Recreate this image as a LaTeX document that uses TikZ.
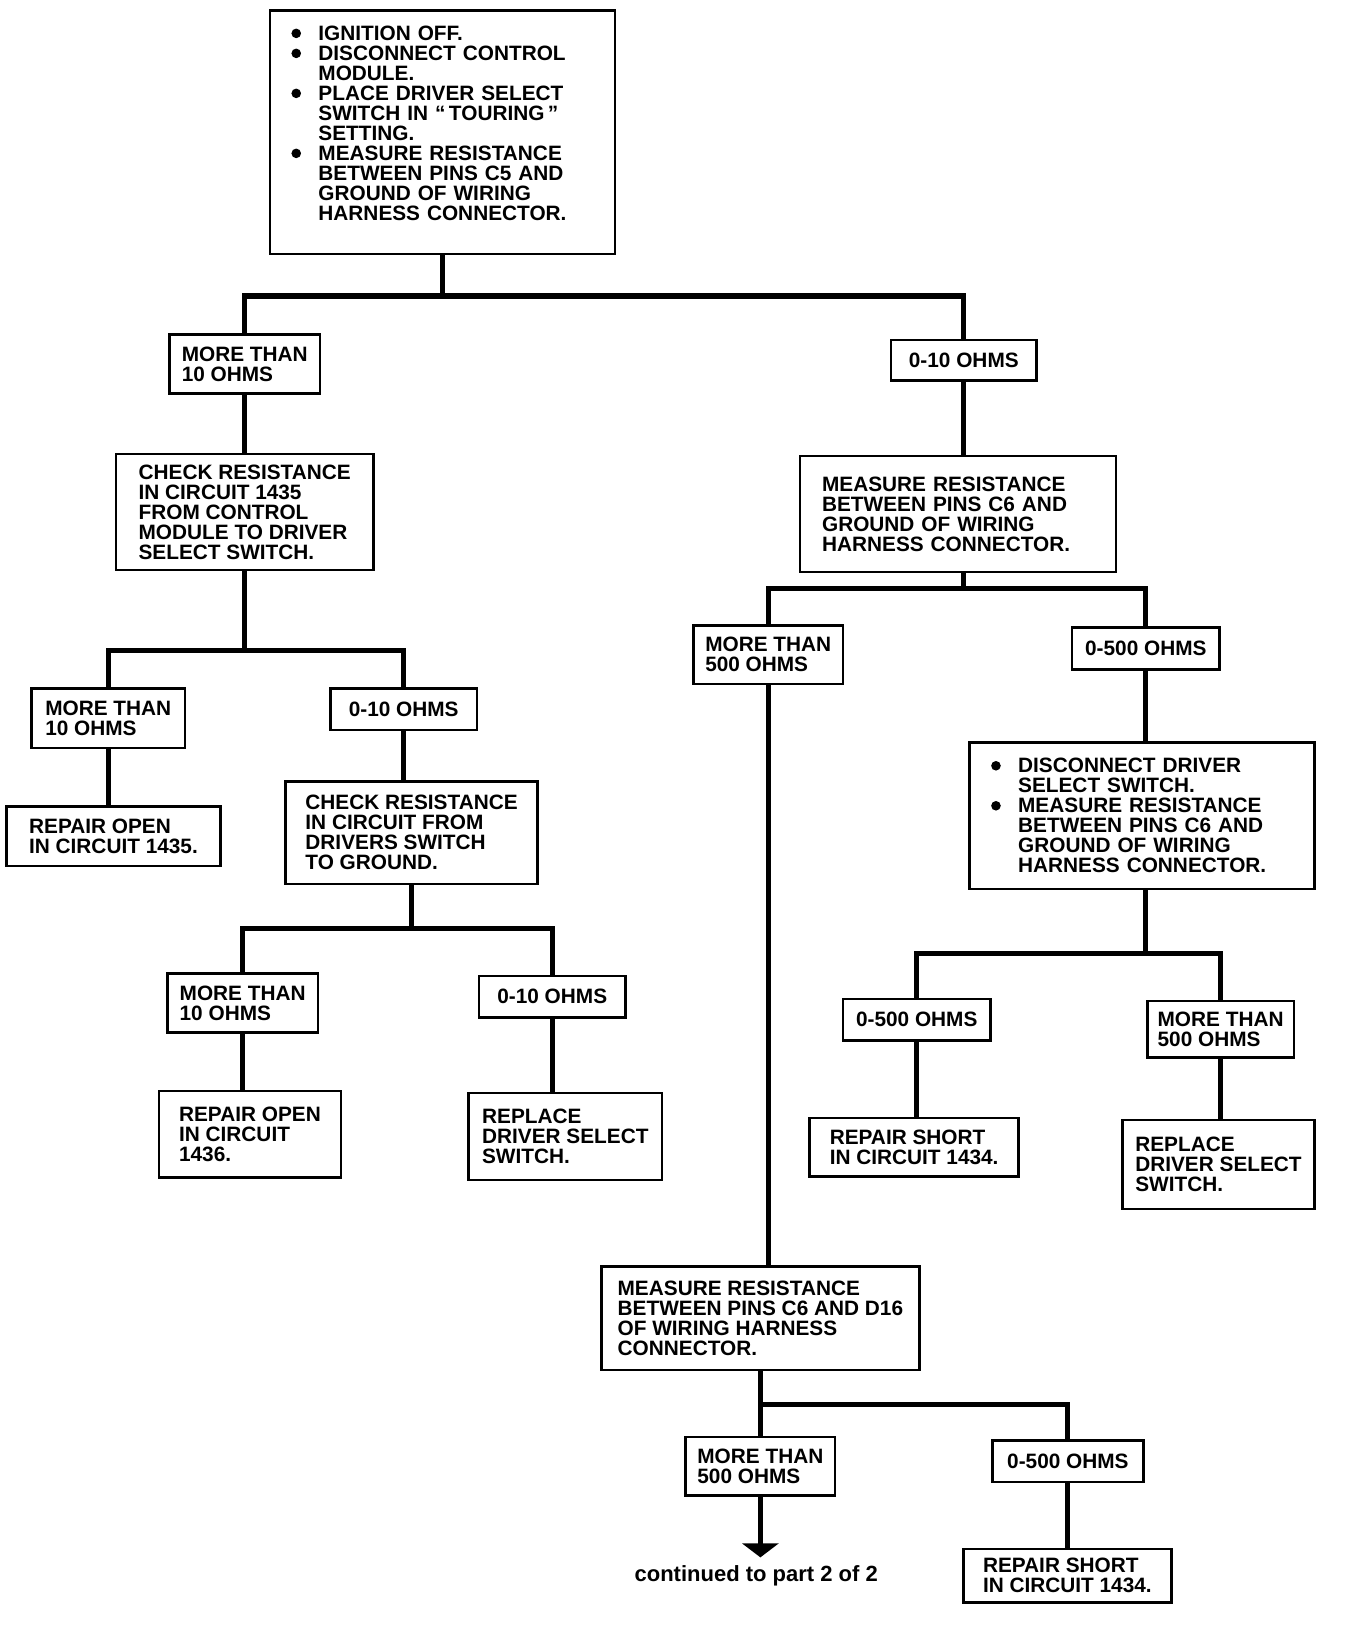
\documentclass[tikz,border=0pt]{standalone}
\usepackage{fontspec}
\setmainfont{Liberation Sans}
\usetikzlibrary{arrows.meta,positioning,calc}
\newcommand{\itm}{\makebox[13.5pt][l]{\raisebox{1.2pt}{\tikz\fill[black] (0,0) circle (2.4pt);}}}
\newcommand{\cnt}{\hspace*{13.5pt}}
\tikzset{
  box/.style={rectangle, draw=black, fill=white, line width=1.3pt, align=left,
              inner sep=3pt, font=\fontsize{10.4}{10}\selectfont\bfseries},
  sz/.style 2 args={minimum width=#1*0.523pt, minimum height=#2*0.523pt},
  wire/.style={draw=black, line width=2.6pt, line cap=rect, line join=miter},
  goon/.style={wire, line cap=butt, -{Triangle[width=18pt,length=7pt]}},
  lbl/.style={font=\fontsize{11}{11}\selectfont\bfseries}
}
\begin{document}
\begin{tikzpicture}[x=0.523pt, y=-0.523pt]
 \useasboundingbox (0,0) rectangle (1285,1568);
 % first check
 \node[box, sz={330}{233}, text width=151pt] (top) at (423,126.5) {%
   \itm IGNITION OFF.\\
   \itm DISCONNECT CONTROL\\
   \cnt MODULE.\\
   \itm PLACE DRIVER SELECT\\
   \cnt SWITCH IN “\,TOURING\,”\\
   \cnt SETTING.\\
   \itm MEASURE RESISTANCE\\
   \cnt BETWEEN PINS C5 AND\\
   \cnt GROUND OF WIRING\\
   \cnt HARNESS CONNECTOR.\\[-1pt]\mbox{}};
 \node[box, sz={144}{56}] (l1) at (234,348) {MORE THAN\\10 OHMS};
 \node[box, sz={139}{39}] (r1) at (921.5,344.5) {0-10 OHMS};
 % left branch
 \node[box, sz={246}{111}] (l2) at (234,489.5) {CHECK RESISTANCE\\IN CIRCUIT 1435\\FROM CONTROL\\MODULE TO DRIVER\\SELECT SWITCH.};
 \node[box, sz={147}{57}] (ll1) at (103.5,686.5) {MORE THAN\\10 OHMS};
 \node[box, sz={140}{40}] (lr1) at (386,678) {0-10 OHMS};
 \node[box, sz={205}{57}] (ll2) at (108.5,799.5) {REPAIR OPEN\\IN CIRCUIT 1435.};
 \node[box, sz={241}{98}] (lr2) at (393.5,796) {CHECK RESISTANCE\\IN CIRCUIT FROM\\DRIVERS SWITCH\\TO GROUND.};
 \node[box, sz={144}{56}] (lrl1) at (232,959) {MORE THAN\\10 OHMS};
 \node[box, sz={140}{40}] (lrr1) at (528,953) {0-10 OHMS};
 \node[box, sz={174}{83}] (lrl2) at (239,1084.5) {REPAIR OPEN\\IN CIRCUIT\\1436.};
 \node[box, sz={185}{83}] (lrr2) at (540.5,1086.5) {REPLACE\\DRIVER SELECT\\SWITCH.};
 % right branch
 \node[box, sz={302}{111}, text width=136pt] (r2) at (916,491.5) {MEASURE RESISTANCE\\BETWEEN PINS C6 AND\\GROUND OF WIRING\\HARNESS CONNECTOR.};
 \node[box, sz={143}{56}] (rl1) at (734.5,626) {MORE THAN\\500 OHMS};
 \node[box, sz={141}{40}] (rr1) at (1095.5,620) {0-500 OHMS};
 \node[box, sz={330}{140}, text width=151pt] (rr2) at (1092,780) {%
   \itm DISCONNECT DRIVER\\
   \cnt SELECT SWITCH.\\
   \itm MEASURE RESISTANCE\\
   \cnt BETWEEN PINS C6 AND\\
   \cnt GROUND OF WIRING\\
   \cnt HARNESS CONNECTOR.};
 \node[box, sz={141}{40}] (rrl1) at (876.5,975) {0-500 OHMS};
 \node[box, sz={140}{54}] (rrr1) at (1167,984) {MORE THAN\\500 OHMS};
 \node[box, sz={200}{56}] (rrl2) at (874,1097) {REPAIR SHORT\\IN CIRCUIT 1434.};
 \node[box, sz={184}{85}] (rrr2) at (1165,1113.5) {REPLACE\\DRIVER SELECT\\SWITCH.};
 % second measurement
 \node[box, sz={304}{99}] (m) at (727,1260.5) {MEASURE RESISTANCE\\BETWEEN PINS C6 AND D16\\OF WIRING HARNESS\\CONNECTOR.};
 \node[box, sz={143}{56}] (ml) at (727,1402) {MORE THAN\\500 OHMS};
 \node[box, sz={144}{40}] (mr) at (1021,1397) {0-500 OHMS};
 \node[box, sz={199}{51}] (mr2) at (1020.5,1506.5) {REPAIR SHORT\\IN CIRCUIT 1434.};
 \node[lbl] (cont) at (723,1507) {continued to part 2 of 2};
 % junctions
 \coordinate (j1) at (423,283);
 \coordinate (j2) at (234,622);
 \coordinate (j3) at (393.5,888);
 \coordinate (j4) at (916,563);
 \coordinate (j5) at (1092,912);
 \coordinate (j6) at (727,1343);
 \coordinate (tip) at (727,1489);
 % connectors
 \draw[wire] (top.south) -- (j1);
 \draw[wire] (l1.north) |- (j1) -| (r1.north);
 \draw[wire] (l1.south) -- (l2.north);
 \draw[wire] (l2.south) -- (j2);
 \draw[wire] (ll1.north) |- (j2) -| (lr1.north);
 \draw[wire] (ll1.south) -- (ll1.south |- ll2.north);
 \draw[wire] (lr1.south) -- (lr1.south |- lr2.north);
 \draw[wire] (lr2.south) -- (j3);
 \draw[wire] (lrl1.north) |- (j3) -| (lrr1.north);
 \draw[wire] (lrl1.south) -- (lrl1.south |- lrl2.north);
 \draw[wire] (lrr1.south) -- (lrr1.south |- lrr2.north);
 \draw[wire] (r1.south) -- (r1.south |- r2.north);
 \draw[wire] (r1.south |- r2.south) -- (r1.south |- j4);
 \draw[wire] (rl1.north) |- (j4) -| (rr1.north);
 \draw[wire] (rr1.south) -- (rr1.south |- rr2.north);
 \draw[wire] (rr1.south |- rr2.south) -- (rr1.south |- j5);
 \draw[wire] (rrl1.north) |- (j5) -| (rrr1.north);
 \draw[wire] (rrl1.south) -- (rrl1.south |- rrl2.north);
 \draw[wire] (rrr1.south) -- (rrr1.south |- rrr2.north);
 \draw[wire] (rl1.south) -- (rl1.south |- m.north);
 \draw[wire] (m.south) -- (j6);
 \draw[wire] (ml.north) |- (j6) -| (mr.north);
 \draw[wire] (mr.south) -- (mr.south |- mr2.north);
 \draw[goon] (ml.south) -- (tip);
\end{tikzpicture}
\end{document}
